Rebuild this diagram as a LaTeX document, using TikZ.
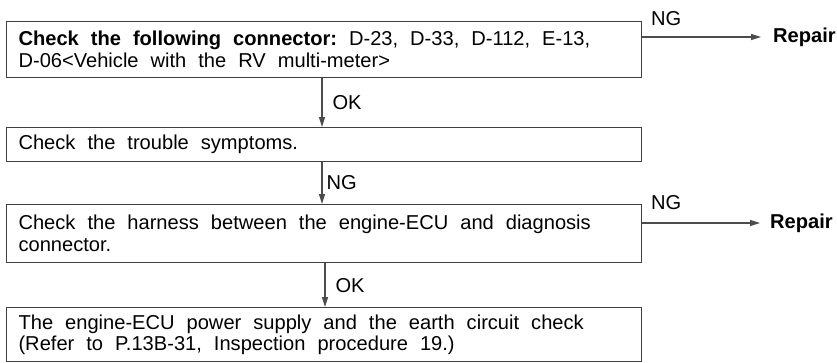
\documentclass[tikz,border=0pt]{standalone}
\usepackage{fontspec}
\setmainfont{Liberation Sans}
\usetikzlibrary{arrows.meta,positioning}
\newcommand\mywidesp{\spaceskip=12pt plus 2pt minus 1pt\relax\xspaceskip=\spaceskip\relax}
\begin{document}
\begin{tikzpicture}[x=1pt,y=-1pt,
  font=\fontsize{20.1}{21.5}\selectfont,
  stepbox/.style={draw=black!75,line width=1.1pt,inner xsep=12pt,inner ysep=0pt,anchor=north west,
    align=left,text width=611pt,minimum width=635pt},
  flow/.style={draw=black!70,line width=1.2pt,-{Triangle[length=10pt,width=6pt]}},
  lbl/.style={inner sep=0pt,anchor=west}]
\useasboundingbox (0,0) rectangle (837,362);
\node[stepbox,minimum height=56pt] (b1) at (6,21) {\mywidesp\mbox{\textbf{Check the following connector:} D-23, D-33, D-112, E-13,}\\D-06<Vehicle with the RV multi-meter>};
\node[stepbox,minimum height=34pt] (b2) at (6,127) {\mywidesp Check the trouble symptoms.};
\node[stepbox,minimum height=58pt] (b3) at (6,204) {\mywidesp\mbox{Check the harness between the engine-ECU and diagnosis}\\connector.};
\node[stepbox,minimum height=54pt] (b4) at (6,307) {\mywidesp\mbox{The engine-ECU power supply and the earth circuit check}\\(Refer to P.13B-31, Inspection procedure 19.)};
\node[lbl] (r1) at (773,37) {\textbf{Repair}};
\node[lbl] (r2) at (770,223) {\textbf{Repair}};
\coordinate (e1) at ([xshift=-12pt]r1.west);
\coordinate (e2) at ([xshift=-10pt]r2.west);
\draw[flow] (b1.south -| 322,0) -- (b2.north -| 322,0) node[lbl,midway,xshift=10pt] (l1) {OK};
\draw[flow] (b2.south -| 322,0) -- (b3.north -| 322,0) node[lbl,midway,xshift=4pt] (l2) {NG};
\draw[flow] (b3.south -| 325,0) -- (b4.north -| 325,0) node[lbl,midway,xshift=10pt,yshift=-1pt] (l3) {OK};
\draw[flow] (b1.east |- e1) -- (e1);
\draw[flow] (b3.east |- e2) -- (e2);
\node[lbl] (n1) at (651,19) {NG};
\node[lbl] (n2) at (651,203) {NG};
\end{tikzpicture}
\end{document}
